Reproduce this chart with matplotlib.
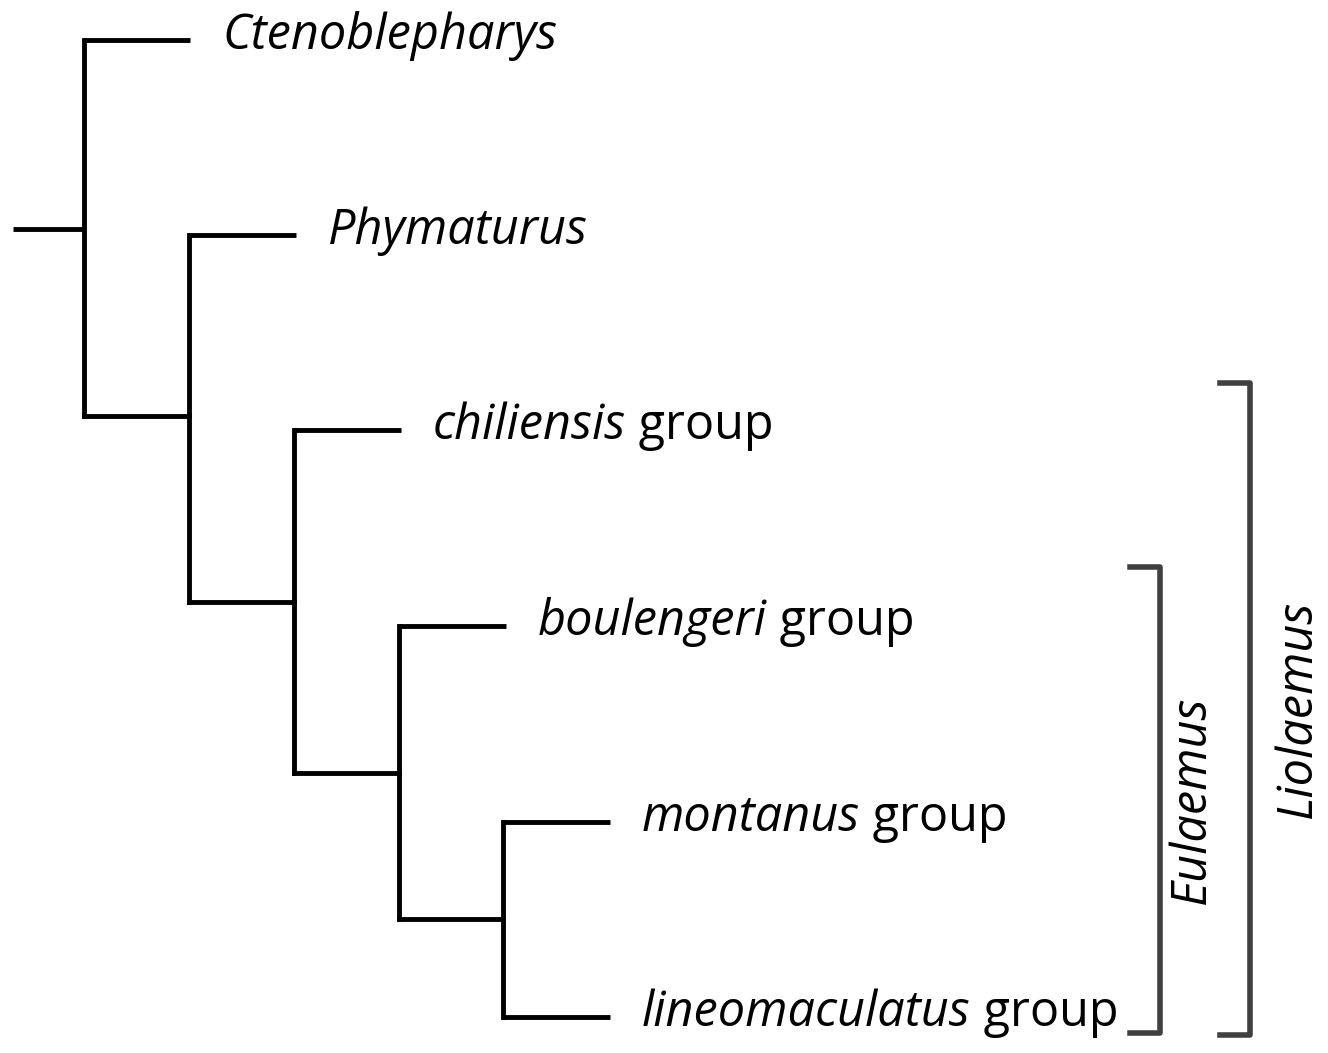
import matplotlib
matplotlib.use("Agg")
import matplotlib.pyplot as plt

# tree (pixel coordinates, y down)
taxa = ["Ctenoblepharys", "Phymaturus", "chiliensis", "boulengeri", "montanus", "lineomaculatus"]
suffix = ["", "", " group", " group", " group", " group"]
leaf_y = [40, 235, 430, 626, 822, 1017]
leaf_tip = [190, 296, 401, 506, 610, 610]
# internal nodes: x, y top child, y bottom child
node_x = [84, 189, 294, 399, 503]
node_top = [40, 235, 430, 626, 822]
node_bot = [416, 602, 773, 919, 1017]
root_y = 229

brackets = [("Eulaemus", 1160, 567, 1033, 1192), ("Liolaemus", 1250, 383, 1035, 1298)]

fig = plt.figure(figsize=(13.28, 10.53), dpi=100)
ax = fig.add_axes([0, 0, 1, 1])
ax.set_xlim(0, 1328)
ax.set_ylim(1053, 0)
ax.axis("off")
lw = 3.5
ax.plot([13, node_x[0]], [root_y, root_y], color="black", lw=lw, solid_capstyle="butt")
for i, x in enumerate(node_x):
    ax.plot([x, x], [node_top[i], node_bot[i]], color="black", lw=lw)
    if i + 1 < len(node_x):
        ax.plot([x, node_x[i + 1]], [node_bot[i], node_bot[i]], color="black", lw=lw)
# leaf branches
leaf_parent = [0, 1, 2, 3, 4, 4]
for j, y in enumerate(leaf_y):
    ax.plot([node_x[leaf_parent[j]], leaf_tip[j]], [y, y], color="black", lw=lw, solid_capstyle="butt")

fs = 35
fam = "Open Sans"
fig.canvas.draw()
r = fig.canvas.get_renderer()
for j, name in enumerate(taxa):
    t = ax.text(leaf_tip[j] + 32, leaf_y[j] - 4, name, style="italic", fontsize=fs,
                family=fam, va="center", ha="left")
    if suffix[j]:
        bb = t.get_window_extent(r)
        x1 = ax.transData.inverted().transform((bb.x1, bb.y0))[0]
        ax.text(x1, leaf_y[j] - 4, suffix[j], fontsize=fs, family=fam, va="center", ha="left")

for name, x, y0, y1, tx in brackets:
    ax.plot([x - 30, x, x, x - 30], [y0, y0, y1, y1], color="#404040", lw=4)
    ax.text(tx, (y0 + y1) / 2, name, rotation=90, style="italic", fontsize=fs,
            family=fam, va="center", ha="center")

fig.savefig("out.png", dpi=100)
